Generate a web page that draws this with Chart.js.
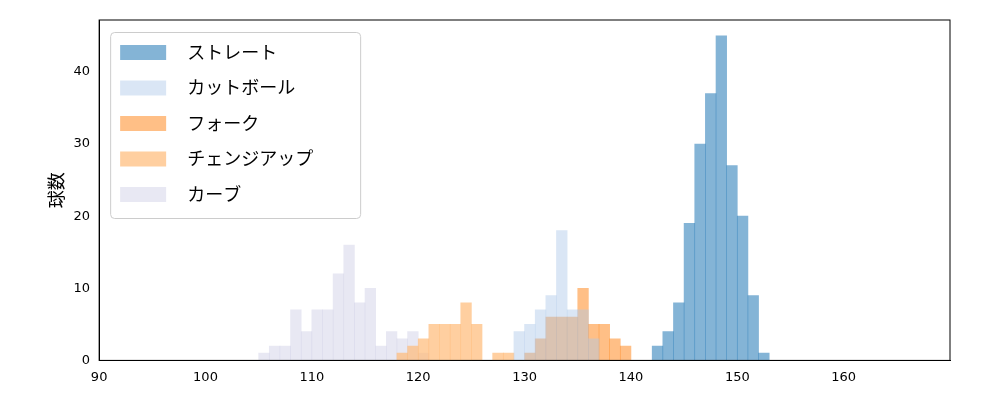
<!DOCTYPE html>
<html><head><meta charset="utf-8">
<script src="https://cdn.jsdelivr.net/npm/chart.js"></script>
<style>body{margin:0;background:#fff}#w{width:1000px;height:400px}</style>
</head><body><div id="w"><canvas id="c"></canvas></div>
<script>
const names = ['ストレート','カットボール','フォーク','チェンジアップ','カーブ'];
const straightBins = [142,143,144,145,146,147,148,149,150,151,152];
const straightCounts = [2,4,8,19,30,37,45,27,20,9,1];
const cutterBins = [129,130,131,132,133,134,135,136];
const cutterCounts = [4,5,7,9,18,7,7,3];
const forkBins = [130,131,132,133,134,135,136,137,138,139];
const forkCounts = [1,3,6,6,6,10,5,5,3,2];
const changeBins = [118,119,120,121,122,123,124,125,127,128];
const changeCounts = [1,2,3,5,5,5,8,5,1,1];
const curveBins = [105,106,107,108,109,110,111,112,113,114,115,116,117,118,119,120];
const curveCounts = [1,2,2,7,4,7,7,12,16,8,10,2,4,3,4,1];
const xTicks = [90,100,110,120,130,140,150,160];
const colors = ['rgba(31,119,180,0.55)','rgba(174,199,232,0.45)','rgba(255,127,14,0.5)','rgba(255,187,120,0.7)','rgba(197,197,224,0.4)'];
const pairs = [[straightBins,straightCounts],[cutterBins,cutterCounts],[forkBins,forkCounts],[changeBins,changeCounts],[curveBins,curveCounts]];
const datasets = pairs.map((p,i)=>({label:names[i],data:p[0].map((b,j)=>({x:b+0.5,y:p[1][j]})),backgroundColor:colors[i],borderWidth:0,grouped:false,barPercentage:1,categoryPercentage:1}));
const legendPlugin={id:'lg',afterDraw(ch){const c=ch.ctx,a=ch.chartArea;
c.save();c.strokeStyle='#000';c.lineWidth=1;c.strokeRect(a.left,a.top,a.right-a.left,a.bottom-a.top);
const x0=a.left+11,y0=a.top+12,w=250,h=186;
c.fillStyle='rgba(255,255,255,0.8)';c.strokeStyle='#ccc';c.beginPath();c.roundRect(x0+.5,y0+.5,w,h,4);c.fill();c.stroke();
c.font='18px "Noto Sans CJK JP"';c.textBaseline='middle';
names.forEach((n,i)=>{const y=y0+20+i*35.5;c.fillStyle=colors[i];c.fillRect(x0+10,y-7,46,15);c.fillStyle='#000';c.fillText(n,x0+77,y);});c.restore();}};
new Chart(document.getElementById('c'),{type:'bar',data:{datasets},plugins:[legendPlugin],
options:{responsive:true,maintainAspectRatio:false,animation:false,
layout:{padding:{left:41,right:50,top:20,bottom:12}},
plugins:{legend:{display:false},tooltip:{enabled:false}},
scales:{x:{type:'linear',min:90,max:170,offset:false,border:{color:'#000'},
afterBuildTicks(s){s.ticks=xTicks.map(v=>({value:v}));},
ticks:{color:'#000',font:{size:13,family:'DejaVu Sans'},autoSkip:false,maxRotation:0},grid:{display:false,tickLength:6,tickColor:'#000'}},
y:{min:0,max:47.2,border:{color:'#000'},grid:{display:false,tickLength:6,tickColor:'#000'},
afterBuildTicks(s){s.ticks=[0,10,20,30,40].map(v=>({value:v}));},
ticks:{color:'#000',font:{size:13,family:'DejaVu Sans'}},
title:{display:true,text:'球数',color:'#000',font:{size:18,family:'Noto Sans CJK JP'}}}}}});
</script></body></html>
